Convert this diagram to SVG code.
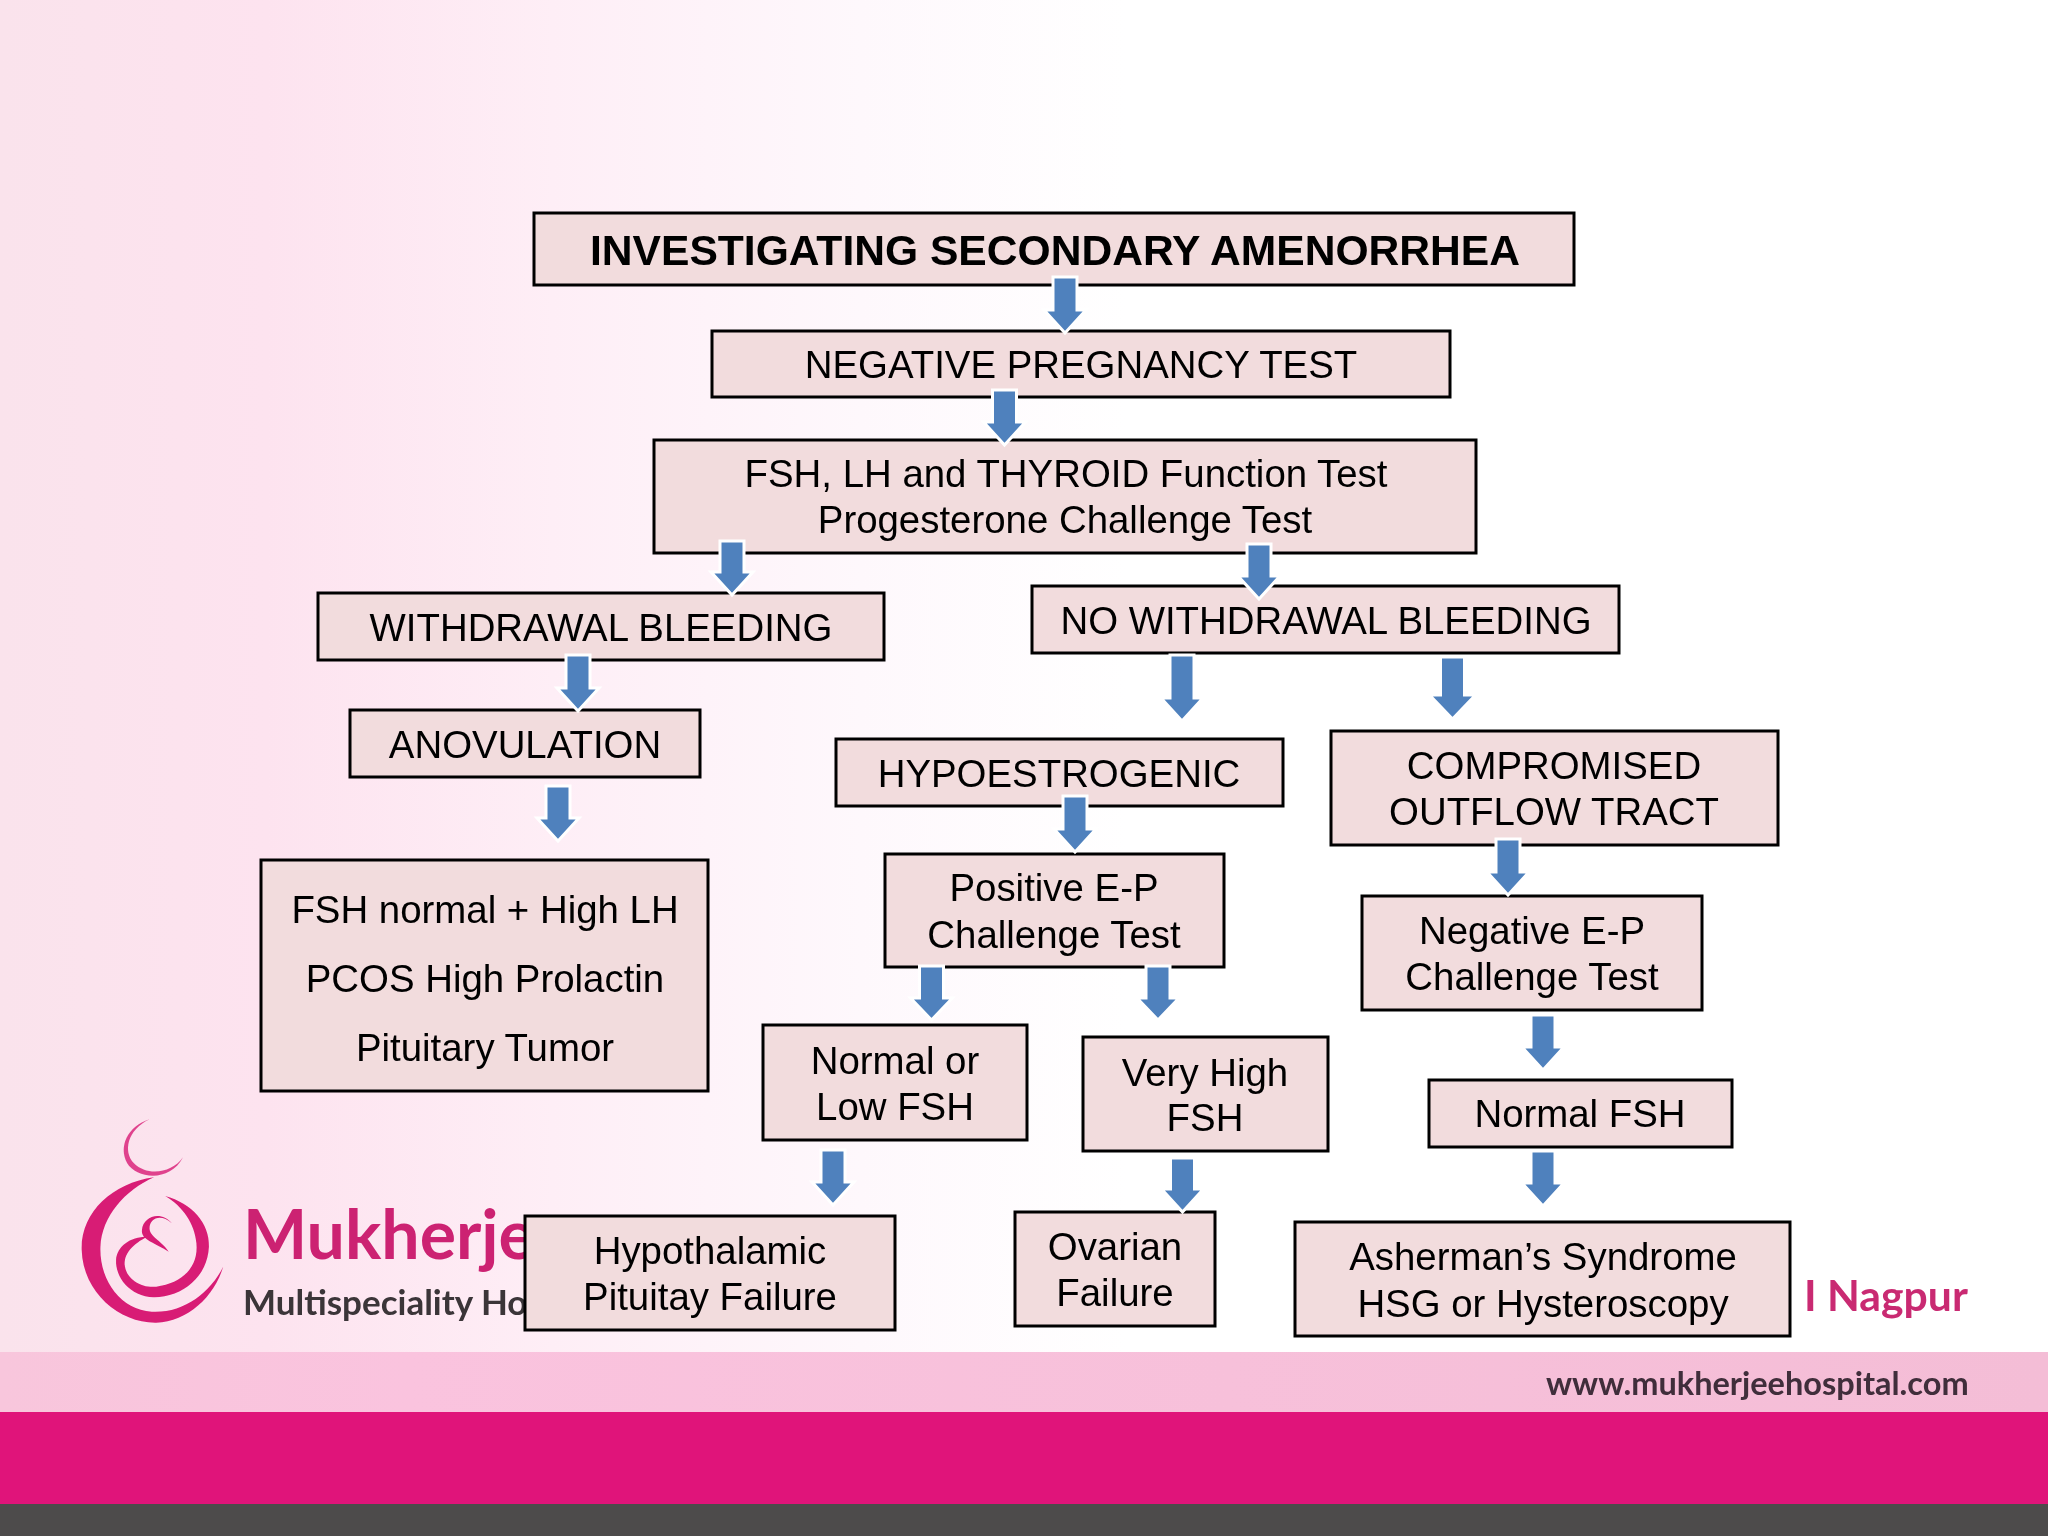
<svg xmlns="http://www.w3.org/2000/svg" width="2048" height="1536" viewBox="0 0 2048 1536">
<style>
.b{fill:#f2dcdd;stroke:#000;stroke-width:3}
.t{font-family:"Liberation Sans",Arial,sans-serif;font-size:38.4px;fill:#000;text-anchor:middle}
.a{fill:#4f81bd;stroke:#fff;stroke-width:3}
.m{fill:#d81b74}
.g{font-family:Lato,"Open Sans",sans-serif;font-weight:700}
</style>
<defs>
<linearGradient id="bg" x1="0" y1="0" x2="1" y2="0"><stop offset="0" stop-color="#fae3ec"/><stop offset="0.13" stop-color="#fde3ef"/><stop offset="0.27" stop-color="#feeef6"/><stop offset="0.42" stop-color="#fef8fc"/><stop offset="0.55" stop-color="#fff"/></linearGradient>
<linearGradient id="bd" x1="0" y1="0" x2="1" y2="0"><stop offset="0" stop-color="#f8c6dc"/><stop offset="0.2" stop-color="#fac3de"/><stop offset="1" stop-color="#f4bdd6"/></linearGradient>
<filter id="soft" x="-5%" y="-5%" width="110%" height="110%"><feGaussianBlur stdDeviation="0.7"/></filter>
</defs>
<g id="background">
<rect width="2048" height="1536" fill="url(#bg)"/>
<rect y="1352" width="2048" height="60" fill="url(#bd)"/>
<rect y="1412" width="2048" height="92" fill="#e0147a"/>
<rect y="1504" width="2048" height="32" fill="#4d4b4b"/>
</g>
<g id="logo" filter="url(#soft)">
<g transform="translate(0,1080) scale(0.4464,0.3333)" class="m">
<path d="M335,118C285,140 265,200 285,250C305,295 380,310 410,232C385,280 330,290 300,250C275,215 285,150 335,118Z" opacity=".8"/>
<path d="M345,292C250,310 180,400 183,510C186,640 270,730 350,728C420,725 480,650 500,560C470,640 410,700 340,695C270,690 222,600 225,500C228,410 280,330 345,292Z"/>
<path d="M370,348C430,370 470,430 468,500C465,590 410,650 345,652C290,650 258,590 260,540C262,500 290,470 330,470C300,490 275,520 280,560C285,600 320,625 350,620C410,610 445,560 440,490C436,430 410,380 370,348Z"/>
<path d="M318,450C320,410 360,390 385,430C360,400 335,415 335,445C335,470 360,480 378,515C350,490 315,480 318,450Z"/>
</g>
<text class="g" x="243" y="1259" font-size="68" fill="#cc2272">Mukherje</text>
<text class="g" x="243" y="1315" font-size="35" fill="#3a3438">Multispeciality Ho</text>
<text class="g" x="1804" y="1311" font-size="42.7" fill="#c92a72">I Nagpur</text>
<text class="g" x="1546" y="1395" font-size="32.5" fill="#3f2d3a">www.mukherjeehospital.com</text>
</g>
<g id="n1"><rect class="b" x="534" y="213" width="1040" height="72"/><text class="t" x="1055" y="265" style="font-weight:700;font-size:42.6px">INVESTIGATING SECONDARY AMENORRHEA</text></g>
<g id="n2"><rect class="b" x="712" y="331" width="738" height="66"/><text class="t" x="1081" y="378">NEGATIVE PREGNANCY TEST</text></g>
<g id="n3"><rect class="b" x="654" y="440" width="822" height="113"/><text class="t" x="1066" y="487">FSH, LH and THYROID Function Test</text><text class="t" x="1065" y="533">Progesterone Challenge Test</text></g>
<g id="n4"><rect class="b" x="318" y="593" width="566" height="67"/><text class="t" x="601" y="641">WITHDRAWAL BLEEDING</text></g>
<g id="n5"><rect class="b" x="1032" y="586" width="587" height="67"/><text class="t" x="1326" y="634">NO WITHDRAWAL BLEEDING</text></g>
<g id="n6"><rect class="b" x="350" y="710" width="350" height="67"/><text class="t" x="525" y="758">ANOVULATION</text></g>
<g id="n7"><rect class="b" x="261" y="860" width="447" height="231"/><text class="t" x="485" y="923">FSH normal + High LH</text><text class="t" x="485" y="992">PCOS High Prolactin</text><text class="t" x="485" y="1061">Pituitary Tumor</text></g>
<g id="n8"><rect class="b" x="836" y="739" width="447" height="67"/><text class="t" x="1059" y="787">HYPOESTROGENIC</text></g>
<g id="n9"><rect class="b" x="1331" y="731" width="447" height="114"/><text class="t" x="1554" y="779">COMPROMISED</text><text class="t" x="1554" y="825">OUTFLOW TRACT</text></g>
<g id="n10"><rect class="b" x="885" y="854" width="339" height="113"/><text class="t" x="1054" y="901">Positive E-P</text><text class="t" x="1054" y="948">Challenge Test</text></g>
<g id="n11"><rect class="b" x="1362" y="896" width="340" height="114"/><text class="t" x="1532" y="944">Negative E-P</text><text class="t" x="1532" y="990">Challenge Test</text></g>
<g id="n12"><rect class="b" x="763" y="1025" width="264" height="115"/><text class="t" x="895" y="1074">Normal or</text><text class="t" x="895" y="1120">Low FSH</text></g>
<g id="n13"><rect class="b" x="1083" y="1037" width="245" height="114"/><text class="t" x="1205" y="1086">Very High</text><text class="t" x="1205" y="1131">FSH</text></g>
<g id="n14"><rect class="b" x="1429" y="1080" width="303" height="67"/><text class="t" x="1580" y="1127">Normal FSH</text></g>
<g id="n15"><rect class="b" x="525" y="1216" width="370" height="114"/><text class="t" x="710" y="1264">Hypothalamic</text><text class="t" x="710" y="1310">Pituitay Failure</text></g>
<g id="n16"><rect class="b" x="1015" y="1212" width="200" height="114"/><text class="t" x="1115" y="1260">Ovarian</text><text class="t" x="1115" y="1306">Failure</text></g>
<g id="n17"><rect class="b" x="1295" y="1222" width="495" height="114"/><text class="t" x="1543" y="1270">Asherman’s Syndrome</text><text class="t" x="1543" y="1317">HSG or Hysteroscopy</text></g>
<g id="connectors">
<polygon class="a" points="1053,277 1077,277 1077,310 1086,310 1065,333 1044,310 1053,310"/>
<polygon class="a" points="992.5,390 1016.5,390 1016.5,422 1025.5,422 1004.5,445 983.5,422 992.5,422"/>
<polygon class="a" points="720,541 744,541 744,572 753,572 732,595 711,572 720,572"/>
<polygon class="a" points="1247,544 1271,544 1271,576 1280,576 1259,599 1238,576 1247,576"/>
<polygon class="a" points="566,655 590,655 590,688 599,688 578,711 557,688 566,688"/>
<polygon class="a" points="546,786 570,786 570,818 579,818 558,841 537,818 546,818"/>
<polygon class="a" points="1170,655 1194,655 1194,698 1203,698 1182,721 1161,698 1170,698"/>
<polygon class="a" points="1440.5,657 1464.5,657 1464.5,695 1475.5,695 1452.5,719 1429.5,695 1440.5,695"/>
<polygon class="a" points="1063,796 1087,796 1087,829 1096,829 1075,852 1054,829 1063,829"/>
<polygon class="a" points="1496,839 1520,839 1520,872 1529,872 1508,895 1487,872 1496,872"/>
<polygon class="a" points="919.5,966 943.5,966 943.5,998 952.5,998 931.5,1020 910.5,998 919.5,998"/>
<polygon class="a" points="1146,966 1170,966 1170,998 1179,998 1158,1020 1137,998 1146,998"/>
<polygon class="a" points="1531,1015 1555,1015 1555,1047 1564,1047 1543,1070 1522,1047 1531,1047"/>
<polygon class="a" points="821,1150 845,1150 845,1182 854,1182 833,1205 812,1182 821,1182"/>
<polygon class="a" points="1170.5,1158 1194.5,1158 1194.5,1189 1203.5,1189 1182.5,1212 1161.5,1189 1170.5,1189"/>
<polygon class="a" points="1531,1151 1555,1151 1555,1183 1564,1183 1543,1206 1522,1183 1531,1183"/>
</g>
</svg>
